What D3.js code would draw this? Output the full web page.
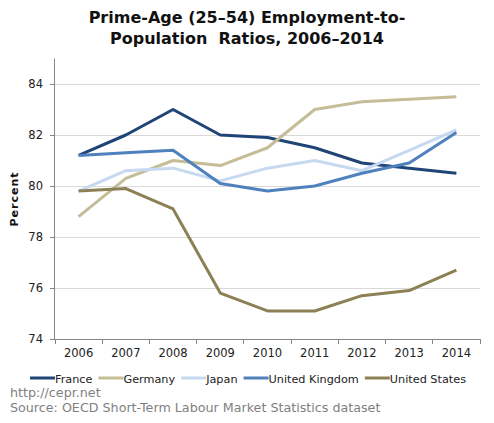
<!DOCTYPE html>
<html><head><meta charset="utf-8">
<script src="https://cdn.jsdelivr.net/npm/d3@7"></script>
<style>body{margin:0;background:#fff;} svg{display:block;font-family:"DejaVu Sans",Verdana,sans-serif;}</style>
</head><body>
<svg id="c" width="494" height="423"></svg>
<script>
const years = ["2006","2007","2008","2009","2010","2011","2012","2013","2014"];
const france = [81.2,82.0,83.0,82.0,81.9,81.5,80.9,80.7,80.5];
const germany = [78.8,80.3,81.0,80.8,81.5,83.0,83.3,83.4,83.5];
const japan = [79.8,80.6,80.7,80.2,80.7,81.0,80.6,81.4,82.2];
const uk = [81.2,81.3,81.4,80.1,79.8,80.0,80.5,80.9,82.1];
const us = [79.8,79.9,79.1,75.8,75.1,75.1,75.7,75.9,76.7];
const yTicks = [74,76,78,80,82,84];
const seriesNames = ["France","Germany","Japan","United Kingdom","United States"];
const colors = ["#1f4476","#c4bd97","#c6d9f1","#4f81bd","#8c8054"];
const series = [france,germany,japan,uk,us];

const svg = d3.select("#c");
const L=55, R=480, T=58.5, B=339;
const x = d3.scaleBand().domain(years).range([L,R]);
const y = d3.scaleLinear().domain([74,85]).range([B,T]);

// title
svg.append("text").attr("x",247).attr("y",23).attr("text-anchor","middle")
  .attr("font-size",16).attr("font-weight","bold").attr("fill","#111").text("Prime-Age (25\u201354) Employment-to-");
svg.append("text").attr("x",247).attr("y",44).attr("text-anchor","middle")
  .attr("font-size",16).attr("font-weight","bold").attr("fill","#111").attr("xml:space","preserve").text("Population  Ratios, 2006\u20132014");

// gridlines
svg.append("g").selectAll("line").data(yTicks.filter(d=>d>74)).join("line")
  .attr("x1",L).attr("x2",R).attr("y1",d=>y(d)).attr("y2",d=>y(d))
  .attr("stroke","#d9d9d9").attr("stroke-width",1).attr("shape-rendering","crispEdges");

// y axis
const ya = svg.append("g").attr("transform",`translate(${L},0)`)
  .call(d3.axisLeft(y).tickValues(yTicks).tickSize(5).tickPadding(7));
ya.select(".domain").attr("d",`M-0.5,${T}V${B}`).attr("stroke","#868686");
ya.selectAll(".tick line").attr("stroke","#868686");
ya.selectAll("text").attr("font-size",11.5).attr("fill","#222").attr("font-family","DejaVu Sans, Verdana, sans-serif");

// x axis
const xa = svg.append("g").attr("transform",`translate(0,${B})`)
  .call(d3.axisBottom(x).tickSize(0).tickPadding(10));
xa.select(".domain").attr("stroke","#868686");
xa.selectAll("text").attr("font-size",11.5).attr("fill","#222").attr("font-family","DejaVu Sans, Verdana, sans-serif");
const bounds = years.map(d=>x(d)).concat([R]);
svg.append("g").selectAll("line").data(bounds).join("line")
  .attr("x1",d=>d).attr("x2",d=>d).attr("y1",B).attr("y2",B+5)
  .attr("stroke","#868686").attr("shape-rendering","crispEdges");

// y label
svg.append("text").attr("transform","translate(18,199) rotate(-90)").attr("text-anchor","middle")
  .attr("font-size",11).attr("font-weight","bold").attr("fill","#111").attr("letter-spacing","1").text("Percent");

// lines
const line = d3.line().x((d,i)=>x(years[i])+x.bandwidth()/2).y(d=>y(d));
svg.append("g").selectAll("path").data(series).join("path")
  .attr("d",line).attr("fill","none").attr("stroke",(d,i)=>colors[i])
  .attr("stroke-width",3).attr("stroke-linejoin","round");

// legend
const lg = svg.append("g").attr("transform","translate(0,378)");
let lx = 30;
seriesNames.forEach((n,i)=>{
  lg.append("line").attr("x1",lx).attr("x2",lx+25).attr("y1",0).attr("y2",0)
    .attr("stroke",colors[i]).attr("stroke-width",3);
  const t = lg.append("text").attr("x",lx+25).attr("y",4.5).attr("font-size",11.25).attr("fill","#222").text(n);
  lx += 25 + t.node().getComputedTextLength() + 6;
});

svg.append("text").attr("x",10).attr("y",397).attr("font-size",12.7).attr("fill","#7f7f7f").text("http://cepr.net");
svg.append("text").attr("x",10).attr("y",412).attr("font-size",12.7).attr("fill","#7f7f7f").text("Source: OECD Short-Term Labour Market Statistics dataset");
</script>
</body></html>
